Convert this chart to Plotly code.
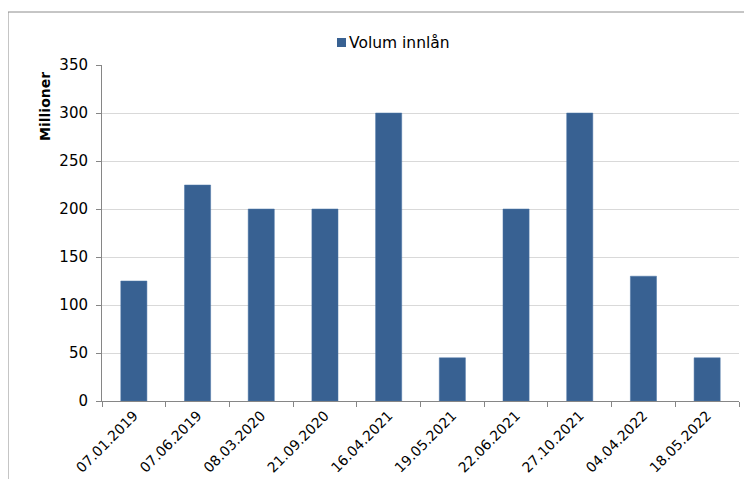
import plotly.graph_objects as go

categories = ["07.01.2019", "07.06.2019", "08.03.2020", "21.09.2020", "16.04.2021",
              "19.05.2021", "22.06.2021", "27.10.2021", "04.04.2022", "18.05.2022"]
volum_innlan = [125, 225, 200, 200, 300, 45, 200, 300, 130, 45]
y_ticks = [0, 50, 100, 150, 200, 250, 300, 350]
series_name = "Volum innlån"
bar_color = "#386192"

# page body has an 8px margin: work in screen coordinates and convert
OFF = 8
W, H = 752 - OFF, 479 - OFF
L, R, T, B = 102, 739, 65, 401          # plot area in screen px
pw, ph = R - L, B - T

def px(x):
    return (x - L) / pw

def py(y):
    return (B - y) / ph

fig = go.Figure()
fig.add_trace(go.Bar(
    x=categories, y=volum_innlan, name=series_name,
    marker=dict(color=bar_color, line=dict(color="#4a74a6", width=0.5)),
    showlegend=False,
))

font_family = "DejaVu Sans, Verdana, sans-serif"

fig.update_layout(
    width=W, height=H,
    margin=dict(l=L - OFF, r=W - (R - OFF), t=T - OFF, b=H - (B - OFF), autoexpand=False),
    paper_bgcolor="white", plot_bgcolor="white",
    bargap=0.59,
    font=dict(family=font_family, size=13, color="black"),
    xaxis=dict(
        type="category", tickangle=-45, tickson="boundaries",
        ticks="outside", ticklen=5, tickcolor="#868686",
        showline=True, linecolor="#868686", linewidth=1,
        showgrid=False, tickfont=dict(size=14),
    ),
    yaxis=dict(
        range=[0, 350], tickvals=y_ticks, ticks="outside", ticklen=5, tickcolor="#868686",
        showline=True, linecolor="#868686", linewidth=1,
        gridcolor="#d9d9d9", gridwidth=1, zeroline=False,
        tickfont=dict(size=15), ticklabelstandoff=5,
    ),
    annotations=[
        dict(text="<b>Millioner</b>", xref="paper", yref="paper",
             x=px(45), y=py(107), xanchor="center", yanchor="middle",
             textangle=-90, showarrow=False, font=dict(size=14)),
        # legend label
        dict(text=series_name, xref="paper", yref="paper",
             x=px(347), y=py(43), xanchor="left", yanchor="middle",
             showarrow=False, font=dict(size=15.5)),
    ],
    shapes=[
        dict(type="rect", xref="paper", yref="paper",
             x0=px(8), x1=px(780), y0=py(520), y1=py(12),
             line=dict(color="#8c8c8c", width=1), layer="below"),
        # legend swatch
        dict(type="rect", xref="paper", yref="paper",
             x0=px(337), x1=px(346), y0=py(47), y1=py(38),
             fillcolor=bar_color, line=dict(width=0)),
    ],
)

fig.write_html("out.html")
